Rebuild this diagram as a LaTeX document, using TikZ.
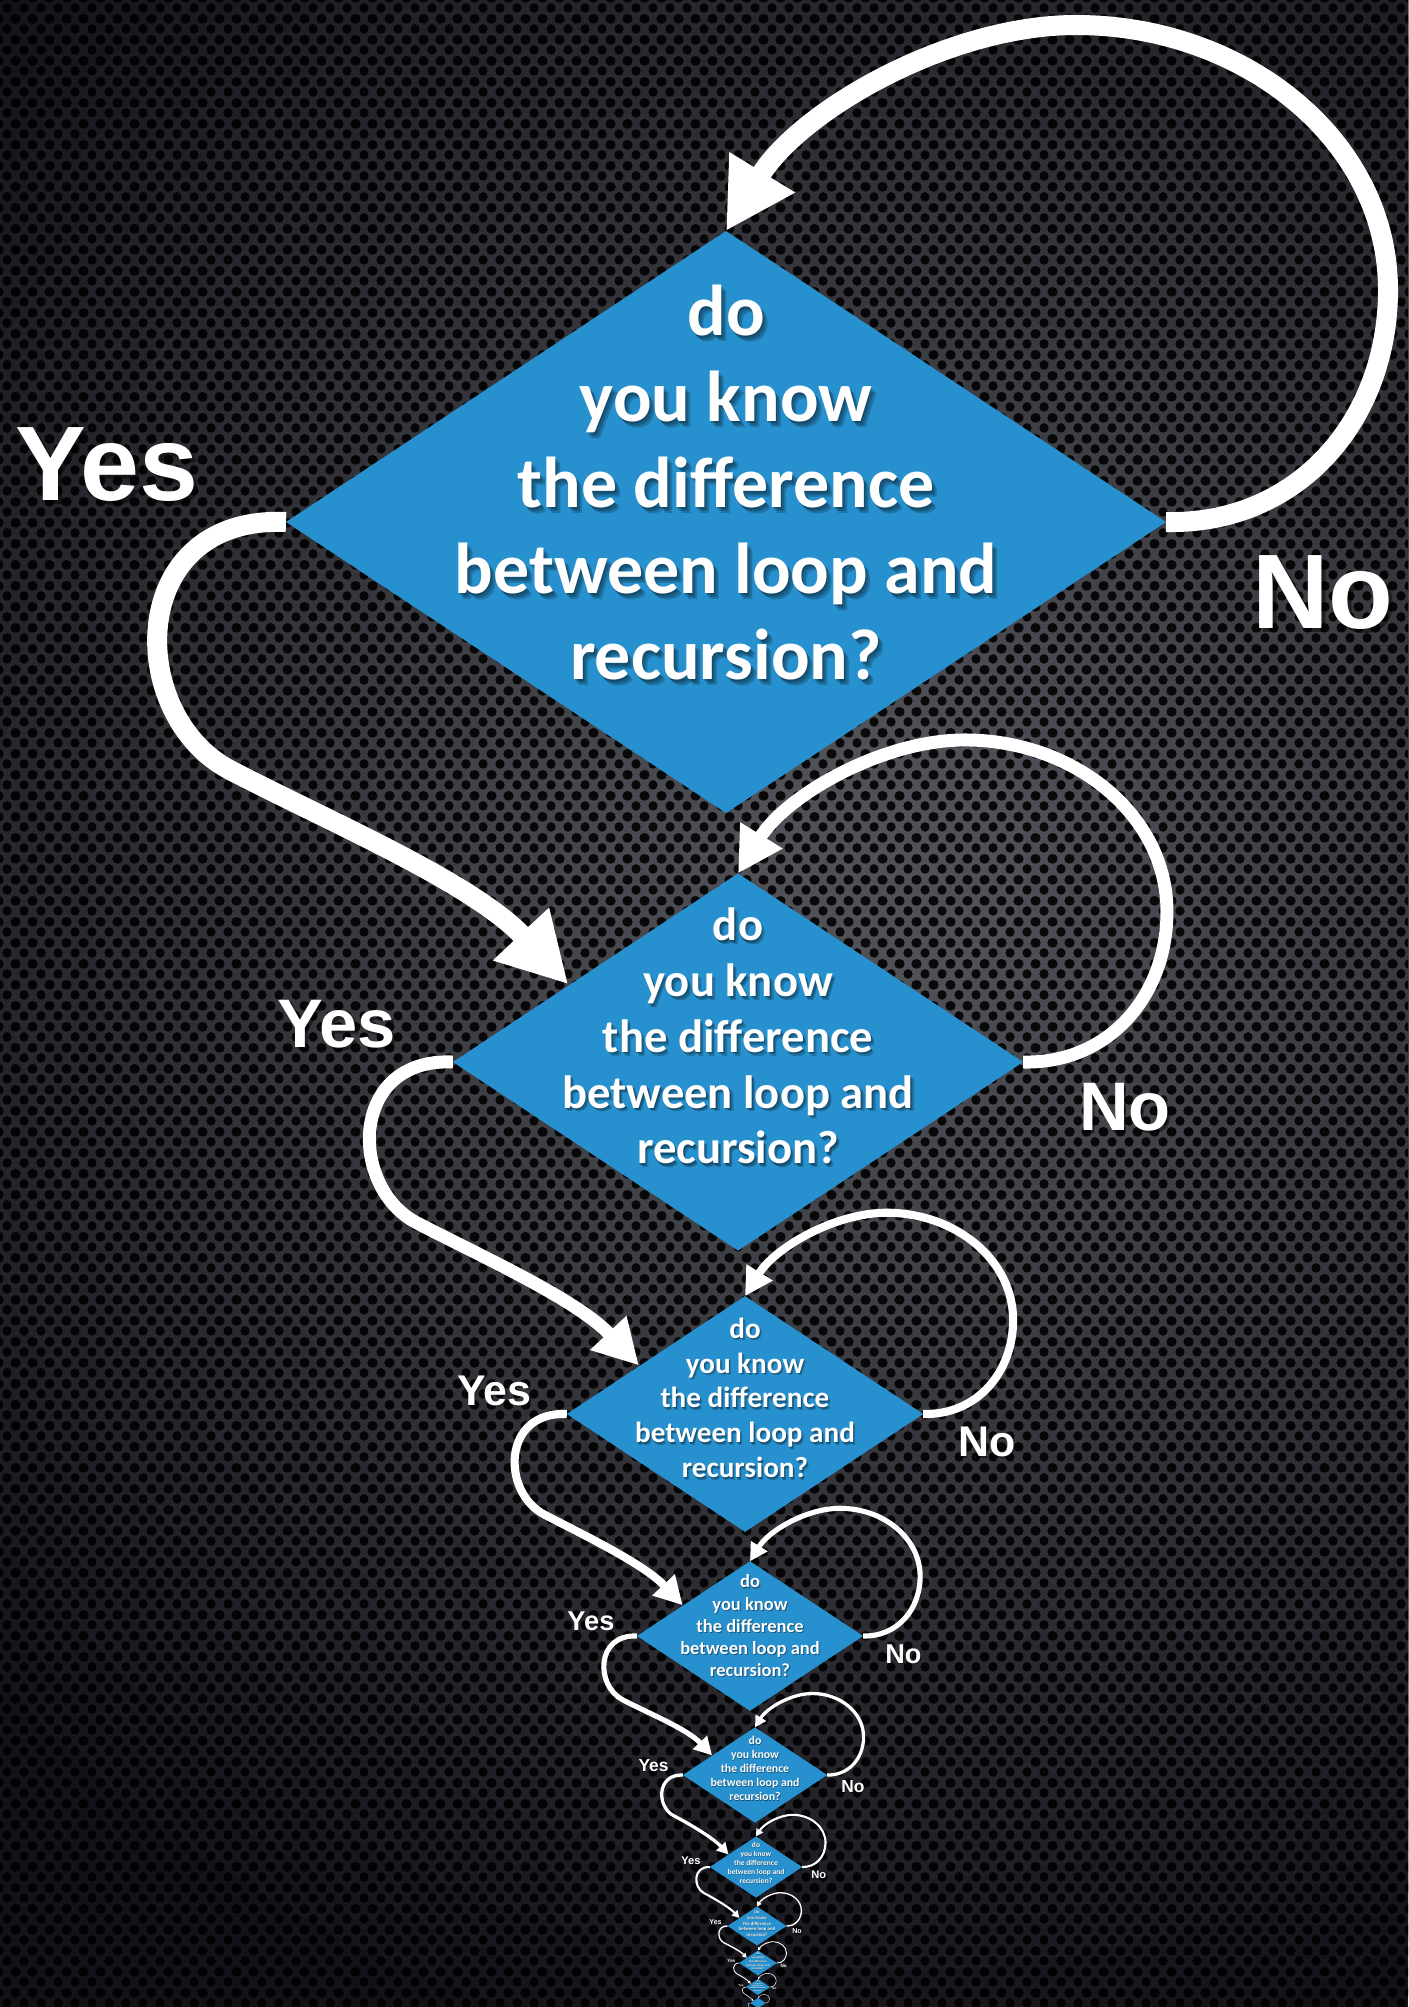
\documentclass[tikz,border=0pt]{standalone}
\usepackage{fontspec}
\newfontfamily\qfont{Carlito}
\newfontfamily\lfont{Liberation Sans}
\usetikzlibrary{arrows.meta,shapes.geometric,patterns}

% perforated-metal background: staggered rows of round holes
\pgfdeclarepatternformonly{hexholes}{\pgfpointorigin}{\pgfpoint{8.5pt}{10.3pt}}{\pgfpoint{8.5pt}{10.3pt}}{%
  \pgfpathcircle{\pgfpoint{4.25pt}{2.575pt}}{2.45pt}%
  \pgfpathcircle{\pgfpoint{0pt}{7.725pt}}{2.45pt}%
  \pgfpathcircle{\pgfpoint{8.5pt}{7.725pt}}{2.45pt}%
  \pgfusepath{fill}}

\definecolor{qblue}{RGB}{39,145,207}
\definecolor{web}{RGB}{82,83,90}
\definecolor{webdark}{RGB}{20,18,25}

\tikzset{
  dia/.style={shape=diamond, fill=qblue, inner sep=0pt, outer sep=0pt,
    minimum width=440pt, minimum height=291pt},
  qtext/.style={text=white, font=\qfont\bfseries\fontsize{36}{40}\selectfont,
    anchor=base, inner sep=0pt},
  qshadow/.style={qtext, text=black, text opacity=0.2},
  lbl/.style={text=white, font=\lfont\bfseries\fontsize{53}{60}\selectfont,
    anchor=base, inner sep=0pt},
  lblshadow/.style={lbl, text=black, text opacity=0.45},
  flow/.style={draw=white, line width=#1,
    -{Triangle[length=0pt 3.45, width=0pt 3.6]}},
}

\begin{document}
\begin{tikzpicture}[x=0.5pt, y=-0.5pt]
\useasboundingbox (0,0) rectangle (1408,2007);
\clip (0,0) rectangle (1408,2007);

% background: dark plate, lit from the middle right, fading into the corners
\fill[webdark] (0,0) rectangle (1408,2007);
\foreach \i in {0,...,24} {
  \pgfmathsetmacro\p{4*\i}
  \fill[web!\p!webdark] (880,860) circle[radius={(1250-46*\i)*0.5pt}];
}
\fill[pattern=hexholes, pattern color=black, fill opacity=0.88] (0,0) rectangle (1408,2007);

% the question, repeated at ever smaller scale
\foreach \k/\cx/\cy/\s in {
    1/726/522/1, 2/738/1062/0.648, 3/745/1414/0.405, 4/750/1636/0.257,
    5/755/1775/0.164, 6/756/1867/0.105, 7/757/1926/0.067, 8/758/1963/0.043,
    9/758/1987/0.0275, 10/758/2003/0.0176} {
  \begin{scope}[shift={(\cx,\cy)}, scale=\s, transform shape]
    \node[dia] (d\k) at (0,0) {};
    \coordinate (in\k) at (-262,-120);
    \ifnum\k<10
      \foreach \ln [count=\i] in {do,you know,the difference,between loop and,recursion?} {
        \foreach \ox/\oy [count=\j] in {1/2,3/4,5/6} {
          \node[qshadow] (s\k-\i-\j) at (\ox,{\oy-187+86*(\i-1)}) {\ln};
        }
        \node[qtext] (t\k-\i) at (0,{-187+86*(\i-1)}) {\ln};
      }
    \fi
  \end{scope}
}
\coordinate (in11) at (755,2012);

% answers: "No" loops back to the same question, "Yes" leads to the next one
\foreach \k/\n/\cx/\cy/\s in {
    1/2/726/522/1, 2/3/738/1062/0.648, 3/4/745/1414/0.405, 4/5/750/1636/0.257,
    5/6/755/1775/0.164, 6/7/756/1867/0.105, 7/8/757/1926/0.067, 8/9/758/1963/0.043,
    9/10/758/1987/0.0275, 10/11/758/2003/0.0176} {
  \draw[flow={\s*10pt}] (d\k.east)
      .. controls +({132*\s},{3*\s}) and +(0,{130*\s}) .. ({\cx+662*\s},{\cy-232*\s})
      .. controls +(0,{-150*\s}) and +({168*\s},0) .. ({\cx+350*\s},{\cy-497*\s})
      .. controls +({-128*\s},0) and +({74*\s},{-120*\s}) .. (d\k.north);
  \draw[flow={\s*10pt}] (d\k.west)
      .. controls +({-161*\s},{-7*\s}) and +({-105*\s},{-55*\s}) .. ({\cx-496*\s},{\cy+248*\s})
      .. controls +({100*\s},{52*\s}) and +({-96*\s},{-102*\s}) .. (in\n);
  \ifnum\k<10
    \node[lblshadow, scale=\s] (ys\k) at ({\cx-615*\s},{\cy-18*\s}) {Yes};
    \node[lbl, scale=\s] (yl\k) at ({\cx-619*\s},{\cy-22*\s}) {Yes};
    \node[lblshadow, scale=\s] (ns\k) at ({\cx+601*\s},{\cy+110*\s}) {No};
    \node[lbl, scale=\s] (nl\k) at ({\cx+597*\s},{\cy+106*\s}) {No};
  \fi
}
\end{tikzpicture}
\end{document}
